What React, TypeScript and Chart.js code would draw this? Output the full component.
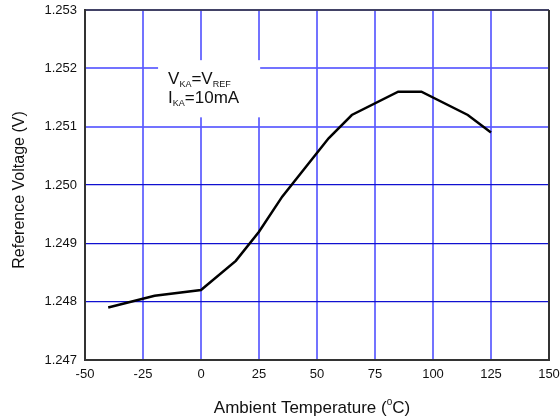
import { useEffect, useRef } from "react";
import { Chart, registerables } from "chart.js";

Chart.register(...registerables);

const temperatures = [-40, -20, 0, 15, 25, 35, 45, 55, 65, 85, 95, 115, 125];
const voltages = [1.2479, 1.2481, 1.2482, 1.2487, 1.2492, 1.2498, 1.2503, 1.2508, 1.2512, 1.2516, 1.2516, 1.2512, 1.2509];
const xTicks = [-50, -25, 0, 25, 50, 75, 100, 125, 150];
const yTicks = [1.247, 1.248, 1.249, 1.25, 1.251, 1.252, 1.253];
const yTitle = "Reference Voltage (V)";
const xTitleParts = [
  { t: "Ambient Temperature (", sup: false },
  { t: "o", sup: true },
  { t: "C)", sup: false },
];
const noteLines = [
  [
    { t: "V", sub: false },
    { t: "KA", sub: true },
    { t: "=V", sub: false },
    { t: "REF", sub: true },
  ],
  [
    { t: "I", sub: false },
    { t: "KA", sub: true },
    { t: "=10mA", sub: false },
  ],
];

const FONT = "'Liberation Sans', Arial, sans-serif";

export default function App() {
  const ref = useRef<HTMLCanvasElement | null>(null);

  useEffect(() => {
    const canvas = ref.current;
    if (!canvas) return;

    const decor = {
      id: "decor",
      beforeDatasetsDraw(chart: any) {
        const ctx = chart.ctx;
        const xs = chart.scales.x;
        const ys = chart.scales.y;
        const bx0 = xs.getPixelForValue(-18.5);
        const bx1 = xs.getPixelForValue(25.5);
        const by0 = ys.getPixelForValue(1.25214);
        const by1 = ys.getPixelForValue(1.25116);
        ctx.save();
        ctx.fillStyle = "#ffffff";
        ctx.fillRect(bx0, by0, bx1 - bx0, by1 - by0);
        ctx.fillStyle = "#111";
        ctx.textBaseline = "alphabetic";
        ctx.textAlign = "left";
        const baselines = [by0 + 24, by0 + 43];
        noteLines.forEach((line, i) => {
          let x = bx0 + 10;
          line.forEach((p) => {
            ctx.font = p.sub ? `9px ${FONT}` : `17px ${FONT}`;
            ctx.fillText(p.t, x, baselines[i] + (p.sub ? 3 : 0));
            x += ctx.measureText(p.t).width;
          });
        });
        ctx.restore();
      },
      afterDatasetsDraw(chart: any) {
        const ctx = chart.ctx;
        const a = chart.chartArea;
        ctx.save();
        ctx.strokeStyle = "#333";
        ctx.lineWidth = 1.5;
        ctx.beginPath();
        ctx.moveTo(a.left, a.top);
        ctx.lineTo(a.right, a.top);
        ctx.stroke();
        ctx.lineWidth = 2;
        ctx.beginPath();
        ctx.moveTo(a.right, a.top);
        ctx.lineTo(a.right, a.bottom);
        ctx.stroke();
        ctx.restore();
      },
      afterDraw(chart: any) {
        const ctx = chart.ctx;
        ctx.save();
        ctx.fillStyle = "#111";
        ctx.font = `16px ${FONT}`;
        ctx.textAlign = "center";
        ctx.textBaseline = "middle";
        ctx.translate(20, 190);
        ctx.rotate(-Math.PI / 2);
        ctx.fillText(yTitle, 0, 0);
        ctx.setTransform(chart.currentDevicePixelRatio, 0, 0, chart.currentDevicePixelRatio, 0, 0);
        ctx.textAlign = "left";
        ctx.textBaseline = "alphabetic";
        let total = 0;
        xTitleParts.forEach((p) => {
          ctx.font = p.sup ? `10px ${FONT}` : `17px ${FONT}`;
          total += ctx.measureText(p.t).width;
        });
        let x = 312 - total / 2;
        const base = 413;
        xTitleParts.forEach((p) => {
          ctx.font = p.sup ? `10px ${FONT}` : `17px ${FONT}`;
          ctx.fillText(p.t, x, base + (p.sup ? -8 : 0));
          x += ctx.measureText(p.t).width;
        });
        ctx.restore();
      },
    };

    const chart = new Chart(canvas, {
      type: "line",
      data: {
        datasets: [
          {
            data: temperatures.map((t, i) => ({ x: t, y: voltages[i] })),
            borderColor: "#000",
            borderWidth: 2.5,
            pointRadius: 0,
            tension: 0,
            fill: false,
          },
        ],
      },
      options: {
        responsive: false,
        animation: false,
        devicePixelRatio: 1,
        layout: { padding: { top: 10, right: 11, left: 0, bottom: 0 } },
        plugins: { legend: { display: false }, tooltip: { enabled: false } },
        scales: {
          x: {
            type: "linear",
            min: -50,
            max: 150,
            afterBuildTicks: (s: any) => {
              s.ticks = xTicks.map((v) => ({ value: v }));
            },
            afterFit: (s: any) => {
              s.height = 58;
              s.paddingLeft = 0;
              s.paddingRight = 0;
            },
            ticks: {
              color: "#111",
              font: { family: FONT, size: 13 },
              padding: 7,
              maxRotation: 0,
              autoSkip: false,
              callback: (v: any) => String(v),
            },
            grid: { color: "rgba(90,90,255,0.85)", lineWidth: 2, drawTicks: false },
            border: { color: "#333", width: 2 },
          },
          y: {
            type: "linear",
            min: 1.247,
            max: 1.253,
            afterBuildTicks: (s: any) => {
              s.ticks = yTicks.map((v) => ({ value: v }));
            },
            afterFit: (s: any) => {
              s.width = 85;
              s.paddingTop = 0;
              s.paddingBottom = 0;
            },
            ticks: {
              color: "#111",
              font: { family: FONT, size: 13 },
              padding: 8,
              autoSkip: false,
              callback: (v: any) => Number(v).toFixed(3),
            },
            grid: {
              drawTicks: false,
              color: (c: any) => (c.index >= 1 && c.index <= 3 ? "#1010d0" : "rgba(90,90,255,0.85)"),
              lineWidth: (c: any) => (c.index >= 1 && c.index <= 3 ? 1.2 : 2),
            },
            border: { color: "#333", width: 2 },
          },
        },
      },
      plugins: [decor],
    });

    return () => chart.destroy();
  }, []);

  return (
    <div style={{ position: "absolute", left: 0, top: 0, width: 560, height: 418, background: "#fff" }}>
      <canvas ref={ref} width={560} height={418} style={{ width: 560, height: 418, display: "block" }} />
    </div>
  );
}
